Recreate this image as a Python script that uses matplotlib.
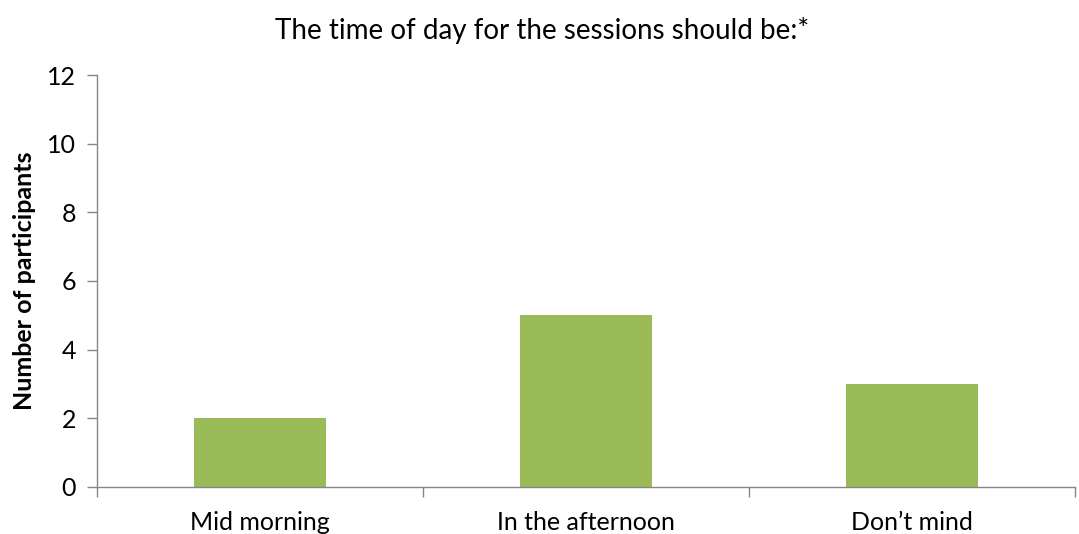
import matplotlib
matplotlib.use("Agg")
import matplotlib.pyplot as plt
import numpy as np

categories = ["Mid morning", "In the afternoon", "Don\u2019t mind"]
values = [2, 5, 3]
yticks = [0, 2, 4, 6, 8, 10, 12]

plt.rcParams['font.family'] = ['Lato', 'DejaVu Sans']

fig = plt.figure(figsize=(10.79, 5.34), dpi=100)
ax = fig.add_axes([97 / 1079, 1 - 487 / 534, (1075 - 97) / 1079, (487 - 75) / 534])

x = np.arange(len(categories))
ax.bar(x, values, width=0.405, color="#9BBB59", zorder=2)

axis_color = "#868686"
ax.set_xlim(-0.5, len(categories) - 0.5)
ax.set_ylim(0, 12)
ax.set_yticks(yticks)
ax.set_yticklabels([str(t) for t in yticks], fontsize=18)

# category labels centered under each bar, tick marks between categories
ax.set_xticks(x)
ax.set_xticklabels(categories, fontsize=18)
ax.tick_params(axis='x', length=0, pad=17)
ax.set_xticks(np.arange(-0.5, len(categories) + 0.5, 1), minor=True)
ax.tick_params(axis='x', which='minor', length=7, color=axis_color, width=1)
ax.tick_params(axis='y', length=7, color=axis_color, width=1, pad=8)

for side in ["top", "right"]:
    ax.spines[side].set_visible(False)
for side in ["left", "bottom"]:
    ax.spines[side].set_color(axis_color)
    ax.spines[side].set_linewidth(1)

ax.set_ylabel("Number of participants", fontsize=18, fontweight="bold", labelpad=8)
fig.text(542 / 1079, 1 - 31 / 534, "The time of day for the sessions should be:*",
         fontsize=20, ha="center", va="center")

fig.savefig("out.png", dpi=100)
